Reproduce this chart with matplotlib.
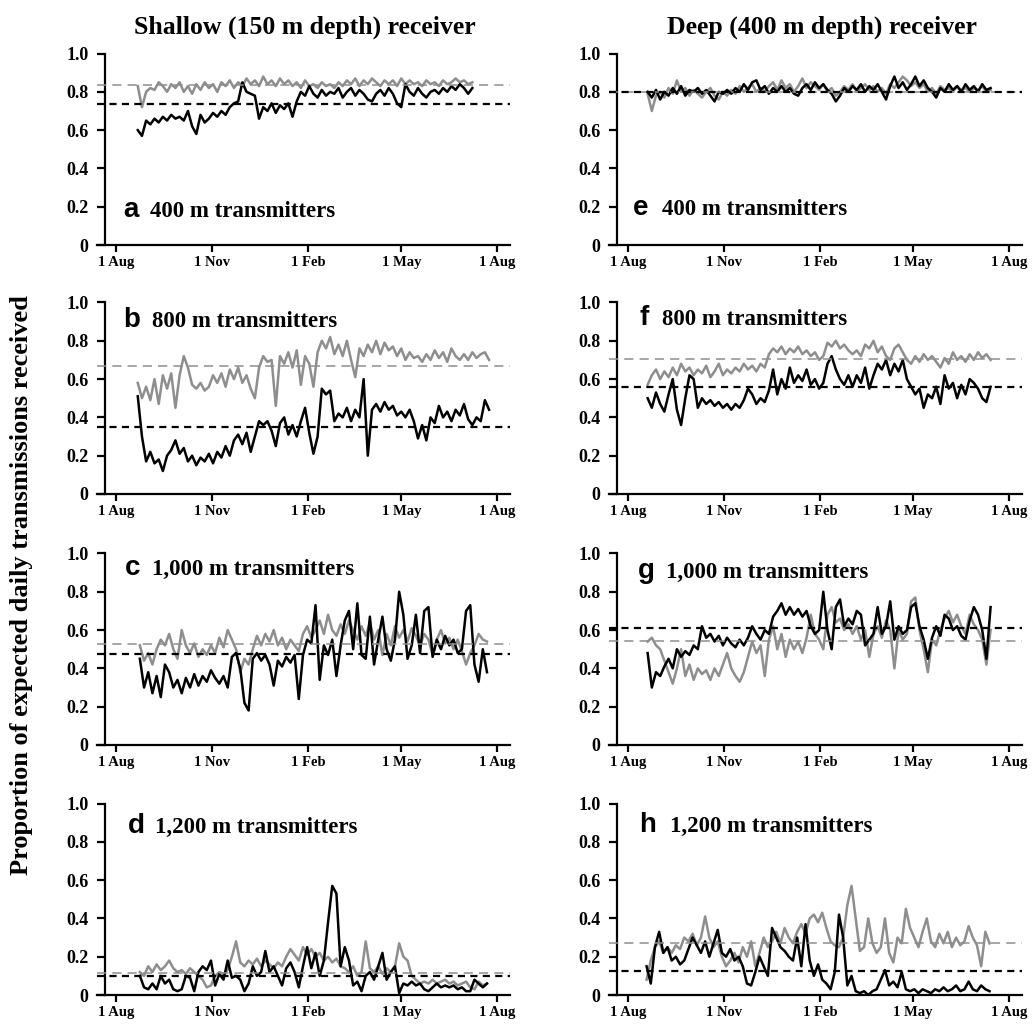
import matplotlib
matplotlib.use("Agg")
import matplotlib.pyplot as plt
import numpy as np

# days counted from 1 Aug; each series sampled every 4 days from its start day
step = 4
xtick_days = [0, 92, 184, 273, 365]
xtick_labels = ["1 Aug", "1 Nov", "1 Feb", "1 May", "1 Aug"]
ytick_vals = [0, 0.2, 0.4, 0.6, 0.8, 1.0]
ytick_labels = ["0", "0.2", "0.4", "0.6", "0.8", "1.0"]

col_titles = ["Shallow (150 m depth) receiver", "Deep (400 m depth) receiver"]
panel_letters = ["a", "b", "c", "d", "e", "f", "g", "h"]
panel_names = ["400 m transmitters", "800 m transmitters", "1,000 m transmitters", "1,200 m transmitters",
               "400 m transmitters", "800 m transmitters", "1,000 m transmitters", "1,200 m transmitters"]

start_days = [21, 21, 23, 23, 19, 19, 19, 18]

# shallow receiver
a_black = [0.60, 0.57, 0.65, 0.63, 0.66, 0.64, 0.67, 0.65, 0.68, 0.66,
           0.67, 0.65, 0.70, 0.62, 0.58, 0.68, 0.64, 0.66, 0.69, 0.67,
           0.70, 0.68, 0.72, 0.74, 0.75, 0.85, 0.80, 0.79, 0.78, 0.66,
           0.72, 0.70, 0.74, 0.69, 0.73, 0.71, 0.74, 0.67, 0.75, 0.80,
           0.78, 0.83, 0.79, 0.77, 0.81, 0.78, 0.80, 0.79, 0.82, 0.77,
           0.80, 0.82, 0.78, 0.81, 0.79, 0.76, 0.75, 0.79, 0.81, 0.78,
           0.82, 0.79, 0.74, 0.72, 0.84, 0.80, 0.78, 0.82, 0.79, 0.77,
           0.80, 0.81, 0.79, 0.82, 0.80, 0.83, 0.81, 0.84, 0.82, 0.79,
           0.82]
a_gray = [0.83, 0.72, 0.80, 0.82, 0.81, 0.85, 0.83, 0.80, 0.84, 0.82,
          0.85, 0.80, 0.83, 0.79, 0.84, 0.81, 0.85, 0.82, 0.84, 0.80,
          0.85, 0.83, 0.86, 0.82, 0.85, 0.83, 0.87, 0.84, 0.86, 0.83,
          0.88, 0.84, 0.86, 0.83, 0.87, 0.84, 0.86, 0.83, 0.85, 0.82,
          0.86, 0.83, 0.84, 0.82, 0.85, 0.83, 0.84, 0.82, 0.85, 0.83,
          0.86, 0.84, 0.87, 0.83, 0.86, 0.84, 0.87, 0.85, 0.83, 0.86,
          0.84, 0.86, 0.83, 0.87, 0.84, 0.86, 0.84, 0.85, 0.83, 0.86,
          0.84, 0.85, 0.83, 0.86, 0.84, 0.85, 0.87, 0.85, 0.86, 0.84,
          0.85]
b_black = [0.51, 0.30, 0.17, 0.22, 0.16, 0.18, 0.12, 0.20, 0.23, 0.28,
           0.21, 0.24, 0.17, 0.20, 0.15, 0.19, 0.17, 0.21, 0.16, 0.22,
           0.19, 0.25, 0.20, 0.28, 0.31, 0.26, 0.32, 0.22, 0.30, 0.38,
           0.36, 0.38, 0.33, 0.25, 0.37, 0.40, 0.31, 0.36, 0.30, 0.38,
           0.45, 0.32, 0.21, 0.30, 0.55, 0.52, 0.54, 0.38, 0.42, 0.40,
           0.45, 0.38, 0.44, 0.40, 0.60, 0.20, 0.44, 0.47, 0.43, 0.48,
           0.44, 0.46, 0.41, 0.43, 0.40, 0.44, 0.38, 0.29, 0.36, 0.28,
           0.40, 0.37, 0.46, 0.40, 0.43, 0.38, 0.44, 0.41, 0.47, 0.39,
           0.36, 0.40, 0.38, 0.49, 0.44]
b_gray = [0.58, 0.50, 0.56, 0.49, 0.60, 0.47, 0.62, 0.55, 0.63, 0.45,
          0.62, 0.72, 0.66, 0.57, 0.55, 0.58, 0.54, 0.56, 0.62, 0.58,
          0.63, 0.56, 0.65, 0.60, 0.66, 0.58, 0.62, 0.55, 0.50, 0.66,
          0.72, 0.69, 0.70, 0.46, 0.72, 0.68, 0.74, 0.66, 0.75, 0.57,
          0.72, 0.68, 0.56, 0.74, 0.80, 0.76, 0.82, 0.73, 0.78, 0.72,
          0.80, 0.70, 0.61, 0.76, 0.72, 0.78, 0.74, 0.80, 0.73, 0.79,
          0.75, 0.77, 0.72, 0.76, 0.70, 0.74, 0.71, 0.72, 0.69, 0.73,
          0.70, 0.75, 0.71, 0.74, 0.69, 0.76, 0.72, 0.70, 0.73, 0.70,
          0.74, 0.71, 0.73, 0.74, 0.70]
c_black = [0.45, 0.30, 0.38, 0.27, 0.36, 0.25, 0.42, 0.38, 0.30, 0.34,
           0.27, 0.35, 0.30, 0.37, 0.31, 0.36, 0.33, 0.39, 0.35, 0.32,
           0.36, 0.30, 0.46, 0.48, 0.40, 0.22, 0.18, 0.45, 0.48, 0.44,
           0.47, 0.42, 0.31, 0.44, 0.41, 0.46, 0.43, 0.47, 0.24, 0.47,
           0.55, 0.53, 0.73, 0.34, 0.52, 0.47, 0.55, 0.36, 0.52, 0.65,
           0.70, 0.50, 0.74, 0.47, 0.45, 0.67, 0.42, 0.55, 0.67, 0.50,
           0.44, 0.55, 0.80, 0.68, 0.45, 0.52, 0.68, 0.48, 0.70, 0.72,
           0.46, 0.55, 0.50, 0.57, 0.52, 0.55, 0.48, 0.50, 0.70, 0.73,
           0.42, 0.33, 0.50, 0.38]
c_gray = [0.52, 0.44, 0.48, 0.42, 0.50, 0.55, 0.52, 0.58, 0.50, 0.45,
          0.60, 0.52, 0.48, 0.53, 0.46, 0.50, 0.47, 0.52, 0.48, 0.56,
          0.51, 0.60, 0.55, 0.50, 0.38, 0.45, 0.42, 0.50, 0.57, 0.52,
          0.58, 0.54, 0.60, 0.52, 0.56, 0.50, 0.55, 0.52, 0.49, 0.58,
          0.62, 0.56, 0.60, 0.65, 0.58, 0.68, 0.60, 0.57, 0.63, 0.58,
          0.65, 0.60, 0.55, 0.62, 0.57, 0.64, 0.55, 0.60, 0.47, 0.58,
          0.52, 0.62, 0.56, 0.60, 0.54, 0.61, 0.57, 0.52, 0.58, 0.55,
          0.47, 0.55, 0.60, 0.53, 0.56, 0.50, 0.55, 0.49, 0.42, 0.48,
          0.52, 0.58, 0.55, 0.54]
d_black = [0.10, 0.04, 0.03, 0.06, 0.03, 0.10, 0.06, 0.08, 0.03, 0.02,
           0.03, 0.10, 0.09, 0.02, 0.12, 0.15, 0.13, 0.18, 0.05, 0.11,
           0.08, 0.18, 0.09, 0.10, 0.08, 0.02, 0.06, 0.15, 0.10, 0.12,
           0.23, 0.12, 0.15, 0.10, 0.05, 0.14, 0.17, 0.12, 0.04, 0.15,
           0.25, 0.14, 0.22, 0.10, 0.18, 0.38, 0.57, 0.53, 0.15, 0.25,
           0.18, 0.05, 0.07, 0.02, 0.10, 0.12, 0.08, 0.15, 0.22, 0.08,
           0.12, 0.15, 0.01, 0.06, 0.05, 0.07, 0.05, 0.06, 0.03, 0.02,
           0.04, 0.06, 0.04, 0.05, 0.04, 0.05, 0.03, 0.04, 0.02, 0.02,
           0.08, 0.06, 0.04, 0.06]
d_gray = [0.12, 0.10, 0.15, 0.12, 0.16, 0.13, 0.15, 0.18, 0.14, 0.12,
          0.13, 0.11, 0.14, 0.12, 0.10, 0.08, 0.04, 0.05, 0.10, 0.12,
          0.11, 0.13, 0.20, 0.28, 0.17, 0.15, 0.18, 0.16, 0.19, 0.15,
          0.18, 0.16, 0.14, 0.17, 0.15, 0.20, 0.24, 0.21, 0.18, 0.25,
          0.21, 0.24, 0.20, 0.22, 0.18, 0.20, 0.17, 0.19, 0.15, 0.14,
          0.12, 0.15, 0.10, 0.12, 0.28, 0.14, 0.12, 0.15, 0.11, 0.14,
          0.12, 0.15, 0.27, 0.20, 0.18, 0.10, 0.08, 0.06, 0.07, 0.06,
          0.08, 0.06, 0.07, 0.08, 0.06, 0.07, 0.05, 0.06, 0.07, 0.04,
          0.03, 0.07, 0.05, 0.06]

# deep receiver
e_black = [0.80, 0.77, 0.81, 0.76, 0.80, 0.78, 0.82, 0.79, 0.83, 0.78,
           0.81, 0.80, 0.82, 0.79, 0.81, 0.78, 0.75, 0.80, 0.79, 0.81,
           0.79, 0.82, 0.80, 0.84, 0.81, 0.85, 0.86, 0.81, 0.83, 0.79,
           0.82, 0.80, 0.83, 0.80, 0.82, 0.79, 0.78, 0.82, 0.84, 0.81,
           0.85, 0.82, 0.84, 0.81, 0.79, 0.75, 0.78, 0.82, 0.80, 0.83,
           0.81, 0.84, 0.80, 0.83, 0.81, 0.84, 0.80, 0.76, 0.83, 0.88,
           0.82, 0.85, 0.81, 0.84, 0.88, 0.83, 0.86, 0.82, 0.80, 0.77,
           0.82, 0.80, 0.84, 0.81, 0.83, 0.80, 0.84, 0.81, 0.83, 0.80,
           0.84, 0.81, 0.82]
e_gray = [0.79, 0.70, 0.78, 0.80, 0.77, 0.82, 0.79, 0.86, 0.80, 0.82,
          0.78, 0.81, 0.79, 0.77, 0.80, 0.82, 0.78, 0.76, 0.80, 0.78,
          0.81, 0.79, 0.83, 0.80, 0.82, 0.84, 0.80, 0.82, 0.80, 0.83,
          0.85, 0.81, 0.86, 0.82, 0.84, 0.80, 0.83, 0.87, 0.82, 0.85,
          0.83, 0.81, 0.84, 0.80, 0.82, 0.78, 0.80, 0.83, 0.81, 0.84,
          0.80, 0.82, 0.84, 0.81, 0.83, 0.80, 0.82, 0.79, 0.84, 0.82,
          0.85, 0.88, 0.86, 0.83, 0.85, 0.82, 0.84, 0.80, 0.82, 0.79,
          0.83, 0.81, 0.82, 0.80, 0.83, 0.81, 0.82, 0.80, 0.82, 0.81,
          0.83, 0.80, 0.81]
f_black = [0.50, 0.45, 0.53, 0.47, 0.43, 0.52, 0.60, 0.44, 0.36, 0.50,
           0.62, 0.60, 0.45, 0.50, 0.47, 0.49, 0.46, 0.48, 0.45, 0.47,
           0.44, 0.47, 0.45, 0.49, 0.55, 0.52, 0.47, 0.50, 0.48, 0.54,
           0.65, 0.52, 0.60, 0.55, 0.66, 0.58, 0.62, 0.59, 0.65, 0.57,
           0.60, 0.55, 0.58, 0.68, 0.72, 0.65, 0.60, 0.57, 0.62, 0.56,
           0.62, 0.58, 0.66, 0.55, 0.62, 0.68, 0.65, 0.70, 0.62, 0.68,
           0.64, 0.70, 0.60, 0.56, 0.52, 0.55, 0.45, 0.52, 0.50, 0.56,
           0.47, 0.62, 0.55, 0.58, 0.50, 0.57, 0.52, 0.60, 0.58, 0.55,
           0.50, 0.48, 0.56]
f_gray = [0.57, 0.62, 0.65, 0.60, 0.64, 0.61, 0.66, 0.62, 0.68, 0.64,
          0.66, 0.62, 0.65, 0.63, 0.67, 0.61, 0.64, 0.68, 0.62, 0.65,
          0.63, 0.66, 0.64, 0.68, 0.65, 0.67, 0.64, 0.68, 0.66, 0.73,
          0.76, 0.74, 0.77, 0.73, 0.76, 0.74, 0.77, 0.73, 0.75, 0.72,
          0.74, 0.70, 0.72, 0.79, 0.77, 0.80, 0.76, 0.78, 0.75, 0.73,
          0.75, 0.72, 0.78, 0.76, 0.80, 0.74, 0.77, 0.72, 0.70, 0.76,
          0.78, 0.74, 0.70, 0.68, 0.72, 0.69, 0.73, 0.70, 0.72, 0.69,
          0.66, 0.71, 0.68, 0.74, 0.70, 0.72, 0.69, 0.73, 0.70, 0.74,
          0.71, 0.73, 0.70]
g_black = [0.48, 0.30, 0.38, 0.36, 0.41, 0.45, 0.40, 0.50, 0.46, 0.49,
           0.47, 0.52, 0.50, 0.62, 0.56, 0.58, 0.54, 0.57, 0.52, 0.56,
           0.53, 0.51, 0.55, 0.52, 0.56, 0.62, 0.58, 0.55, 0.60, 0.58,
           0.67, 0.70, 0.74, 0.68, 0.72, 0.68, 0.71, 0.67, 0.70, 0.62,
           0.58, 0.60, 0.80, 0.60, 0.50, 0.72, 0.76, 0.62, 0.66, 0.63,
           0.70, 0.68, 0.52, 0.55, 0.58, 0.72, 0.58, 0.62, 0.75, 0.55,
           0.62, 0.58, 0.60, 0.72, 0.74, 0.62, 0.55, 0.45, 0.56, 0.62,
           0.57, 0.68, 0.66, 0.60, 0.62, 0.57, 0.55, 0.65, 0.72, 0.68,
           0.60, 0.45, 0.72]
g_gray = [0.54, 0.56, 0.52, 0.50, 0.44, 0.38, 0.32, 0.40, 0.50, 0.36,
          0.42, 0.34, 0.40, 0.37, 0.39, 0.34, 0.40, 0.36, 0.42, 0.48,
          0.40, 0.36, 0.33, 0.38, 0.46, 0.54, 0.48, 0.52, 0.36, 0.55,
          0.62, 0.50, 0.58, 0.46, 0.55, 0.50, 0.54, 0.48, 0.56, 0.68,
          0.58, 0.55, 0.50, 0.68, 0.72, 0.64, 0.66, 0.60, 0.63, 0.58,
          0.62, 0.55, 0.60, 0.46, 0.58, 0.62, 0.56, 0.65, 0.60, 0.40,
          0.60, 0.55, 0.58, 0.75, 0.77, 0.60, 0.50, 0.38, 0.55, 0.52,
          0.60, 0.66, 0.70, 0.64, 0.68, 0.62, 0.58, 0.68, 0.63, 0.60,
          0.55, 0.42, 0.60]
h_black = [0.15, 0.06, 0.25, 0.33, 0.22, 0.25, 0.18, 0.20, 0.16, 0.18,
           0.24, 0.30, 0.26, 0.22, 0.28, 0.20, 0.27, 0.34, 0.22, 0.20,
           0.24, 0.18, 0.20, 0.15, 0.06, 0.05, 0.12, 0.20, 0.15, 0.10,
           0.35, 0.30, 0.25, 0.23, 0.20, 0.18, 0.30, 0.15, 0.37, 0.18,
           0.10, 0.16, 0.08, 0.06, 0.03, 0.12, 0.42, 0.30, 0.05, 0.10,
           0.02, 0.01, 0.02, 0.00, 0.02, 0.03, 0.08, 0.13, 0.05, 0.07,
           0.04, 0.12, 0.03, 0.02, 0.03, 0.01, 0.03, 0.02, 0.01, 0.03,
           0.02, 0.04, 0.02, 0.03, 0.05, 0.02, 0.03, 0.07, 0.03, 0.02,
           0.05, 0.03, 0.02]
h_gray = [0.08, 0.18, 0.25, 0.28, 0.22, 0.25, 0.22, 0.26, 0.24, 0.30,
          0.28, 0.32, 0.26, 0.30, 0.41, 0.30, 0.25, 0.28, 0.20, 0.15,
          0.18, 0.22, 0.17, 0.25, 0.20, 0.28, 0.15, 0.22, 0.30, 0.25,
          0.28, 0.33, 0.27, 0.35, 0.30, 0.27, 0.33, 0.37, 0.32, 0.40,
          0.42, 0.38, 0.43, 0.35, 0.28, 0.26, 0.25, 0.30, 0.47, 0.57,
          0.40, 0.23, 0.25, 0.40, 0.27, 0.22, 0.25, 0.40, 0.22, 0.17,
          0.30, 0.27, 0.45, 0.35, 0.30, 0.25, 0.33, 0.40, 0.28, 0.25,
          0.32, 0.27, 0.33, 0.25, 0.30, 0.26, 0.28, 0.36, 0.30, 0.26,
          0.15, 0.33, 0.27]

black_series = [a_black, b_black, c_black, d_black, e_black, f_black, g_black, h_black]
gray_series = [a_gray, b_gray, c_gray, d_gray, e_gray, f_gray, g_gray, h_gray]

# overall means (dashed lines)
black_means = [0.738, 0.349, 0.476, 0.099, 0.797, 0.560, 0.609, 0.127]
gray_means = [0.837, 0.670, 0.529, 0.116, 0.797, 0.707, 0.541, 0.272]

serif = "Liberation Serif"
sans = "Liberation Sans"
gray_col = "#8e8e8e"

fig = plt.figure(figsize=(10.33, 10.24), dpi=100)

col_left = [0.0939, 0.5895]
row_bottom = [0.7607, 0.5176, 0.2725, 0.0283]
ax_w = 0.3998
ax_h = 0.1870

# letter/name positions: x in days, y in axes fraction (baseline)
letter_x = [6.7, 6.7, 8.6, 11.5, 4.5, 11.0, 9.4, 11.0]
name_x = [32.6, 34.5, 34.5, 37.4, 33.0, 32.3, 37.0, 40.0]
label_y = [0.146, 0.874, 0.890, 0.848, 0.156, 0.885, 0.874, 0.853]

for i in range(8):
    col = i // 4
    row = i % 4
    ax = fig.add_axes([col_left[col], row_bottom[row], ax_w, ax_h])

    g = np.array(gray_series[i])
    k = np.array(black_series[i])
    days = start_days[i] + step * np.arange(len(k))
    ax.plot(days, g, color=gray_col, lw=1.8, zorder=2)
    ax.plot(days, k, color="black", lw=1.8, zorder=3)

    ax.axhline(gray_means[i], color=gray_col, lw=1.1, dashes=(6, 4), zorder=4)
    ax.axhline(black_means[i], color="black", lw=1.6, dashes=(3.2, 2.4), zorder=4)

    ax.set_xlim(-18, 377)
    ax.set_ylim(0, 1.0)
    ax.spines["top"].set_visible(False)
    ax.spines["right"].set_visible(False)
    ax.spines["left"].set_position(("data", -10))
    ax.spines["left"].set_linewidth(1.6)
    ax.spines["bottom"].set_linewidth(1.6)
    ax.set_xticks(xtick_days)
    ax.set_xticklabels(xtick_labels, fontfamily=serif, fontweight="bold", fontsize=10.5)
    ax.set_yticks(ytick_vals)
    ax.set_yticklabels(ytick_labels, fontfamily=serif, fontweight="bold", fontsize=13)
    ax.tick_params(axis="x", direction="out", length=5, width=1.6, pad=3)
    ax.tick_params(axis="y", direction="out", length=6, width=1.6, pad=6)
    ax.patch.set_visible(False)

    tr = ax.get_xaxis_transform()
    ax.text(letter_x[i], label_y[i], panel_letters[i], transform=tr, fontfamily=sans,
            fontweight="bold", fontsize=20, va="baseline", ha="left")
    ax.text(name_x[i], label_y[i], panel_names[i], transform=tr, fontfamily=serif,
            fontweight="bold", fontsize=16.5, va="baseline", ha="left")

fig.text(0.295, 0.967, col_titles[0], fontfamily=serif, fontweight="bold", fontsize=18.5,
         ha="center", va="baseline")
fig.text(0.796, 0.967, col_titles[1], fontfamily=serif, fontweight="bold", fontsize=18.5,
         ha="center", va="baseline")
fig.text(0.021, 0.429, "Proportion of expected daily transmissions received", fontfamily=serif,
         fontweight="bold", fontsize=19, rotation=90, ha="center", va="center")

fig.savefig("out.png", dpi=100)
